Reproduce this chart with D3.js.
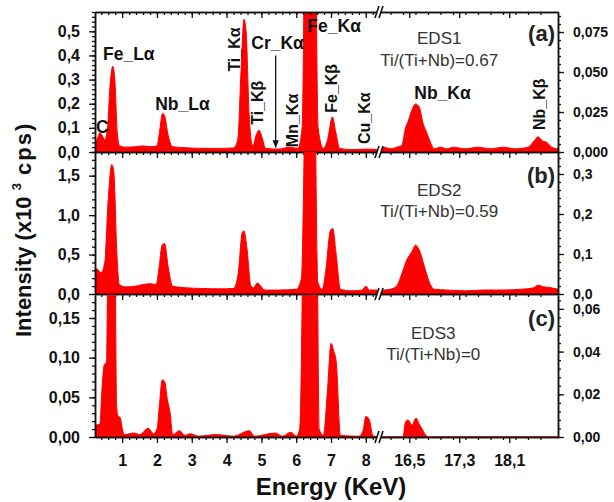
<!DOCTYPE html>
<html>
<head>
<meta charset="utf-8">
<script src="https://cdn.jsdelivr.net/npm/d3@7"></script>
<style>
  body { margin: 0; background: #fff; }
  svg { font-family: "Liberation Sans", Arial, sans-serif; }
</style>
</head>
<body>
<div id="chart"></div>
<script>
// spectra: [energy keV, intensity x10^3 cps]
const specA_low = [[0.22,0.03],[0.3,0.06],[0.36,0.08],[0.42,0.07],[0.5,0.05],[0.58,0.1],[0.65,0.27],[0.73,0.355],[0.79,0.3],[0.86,0.08],[0.93,0.025],[1.1,0.02],[1.4,0.022],[1.6,0.025],[1.8,0.022],[2.0,0.025],[2.07,0.08],[2.16,0.16],[2.22,0.15],[2.32,0.07],[2.45,0.022],[2.8,0.018],[3.3,0.015],[3.8,0.015],[4.2,0.017],[4.32,0.05],[4.42,0.35],[4.5,0.55],[4.56,0.5],[4.65,0.15],[4.75,0.025],[4.85,0.07],[4.93,0.09],[5.02,0.06],[5.12,0.015],[5.5,0.012],[5.8,0.02],[6.05,0.015],[6.17,0.1],[6.27,1.4],[6.4,3.0],[6.53,1.4],[6.63,0.1],[6.78,0.015],[6.9,0.05],[7.04,0.145],[7.14,0.08],[7.25,0.015],[7.6,0.01],[8.0,0.012],[8.35,0.01]];
const specA_high = [[16.0,0.002],[16.1,0.003],[16.2,0.002],[16.3,0.003],[16.38,0.004],[16.44,0.015],[16.48,0.019],[16.54,0.026],[16.6,0.030],[16.66,0.028],[16.72,0.018],[16.78,0.012],[16.84,0.006],[16.9,0.002],[17.0,0.003],[17.1,0.002],[17.2,0.003],[17.4,0.002],[17.6,0.003],[17.8,0.002],[18.0,0.003],[18.2,0.002],[18.4,0.003],[18.5,0.007],[18.56,0.0095],[18.63,0.007],[18.7,0.006],[18.78,0.003],[18.88,0.002]];

const specB_low = [[0.22,0.33],[0.3,0.31],[0.4,0.27],[0.5,0.4],[0.6,1.2],[0.7,1.64],[0.76,1.55],[0.85,0.5],[0.92,0.12],[1.1,0.09],[1.4,0.1],[1.6,0.12],[1.8,0.13],[1.98,0.12],[2.05,0.3],[2.15,0.62],[2.22,0.64],[2.32,0.35],[2.45,0.1],[2.8,0.08],[3.3,0.07],[3.8,0.065],[4.2,0.07],[4.33,0.25],[4.45,0.78],[4.5,0.8],[4.58,0.6],[4.7,0.1],[4.78,0.08],[4.88,0.14],[4.98,0.1],[5.1,0.05],[5.5,0.05],[6.0,0.06],[6.15,0.2],[6.27,3],[6.4,6],[6.53,3],[6.62,0.15],[6.75,0.06],[6.85,0.3],[6.98,0.8],[7.05,0.83],[7.15,0.5],[7.27,0.06],[7.6,0.04],[7.9,0.05],[8.0,0.1],[8.1,0.05],[8.35,0.05]];
const specB_high = [[16.0,0.008],[16.1,0.01],[16.2,0.012],[16.3,0.02],[16.38,0.05],[16.46,0.085],[16.54,0.105],[16.6,0.122],[16.66,0.11],[16.74,0.07],[16.82,0.03],[16.9,0.012],[17.1,0.01],[17.4,0.008],[17.7,0.01],[18.0,0.01],[18.3,0.012],[18.48,0.015],[18.56,0.022],[18.65,0.018],[18.75,0.016],[18.88,0.012]];

const specC_low = [[0.22,0.015],[0.36,0.016],[0.42,0.06],[0.48,0.09],[0.55,0.095],[0.6,0.3],[0.7,0.6],[0.79,0.3],[0.84,0.04],[0.88,0.027],[0.95,0.024],[1.0,0.012],[1.06,0.003],[1.2,0.004],[1.35,0.005],[1.5,0.003],[1.75,0.011],[1.9,0.004],[2.0,0.01],[2.08,0.045],[2.15,0.072],[2.22,0.07],[2.3,0.047],[2.38,0.03],[2.45,0.003],[2.65,0.008],[2.8,0.002],[2.95,0.004],[3.2,0.001],[3.7,0.003],[4.2,0.001],[4.65,0.008],[4.8,0.001],[5.4,0.005],[5.6,0.001],[5.85,0.006],[6.0,0.001],[6.1,0.01],[6.2,0.3],[6.4,2.0],[6.6,0.3],[6.66,0.01],[6.78,0.002],[6.9,0.06],[7.0,0.118],[7.08,0.108],[7.15,0.095],[7.27,0.002],[7.8,0.001],[7.92,0.008],[8.0,0.026],[8.1,0.022],[8.2,0.002],[8.35,0.0]];
const specC_high = [[16.0,0],[16.4,0],[16.44,0.007],[16.48,0.008],[16.54,0.0056],[16.61,0.0088],[16.66,0.006],[16.7,0.004],[16.76,0.001],[16.8,0],[18.88,0]];

const energyTicksLow = [1, 2, 3, 4, 5, 6, 7, 8];
const energyTicksHigh = [16.5, 17.3, 18.1];
const sampleNames = ["EDS1", "EDS2", "EDS3"];
const ratioLabels = ["Ti/(Ti+Nb)=0.67", "Ti/(Ti+Nb)=0.59", "Ti/(Ti+Nb)=0"];
const panelTags = ["(a)", "(b)", "(c)"];

// peak labels of panel (a): energy and intensity where the text starts
const peakLabels = [
  { text: "C", e: 0.25, v: 0.079, high: false, rot: false },
  { text: "Fe_L\u03b1", e: 0.45, v: 0.38, high: false, rot: false },
  { text: "Nb_L\u03b1", e: 1.95, v: 0.175, high: false, rot: false },
  { text: "Ti_K\u03b1", e: 4.39, v: 0.333, high: false, rot: true },
  { text: "Cr_K\u03b1", e: 4.71, v: 0.425, high: false, rot: false },
  { text: "Ti_K\u03b2", e: 5.05, v: 0.1125, high: false, rot: true },
  { text: "Mn_K\u03b1", e: 6.06, v: 0.02, high: false, rot: true },
  { text: "Fe_K\u03b1", e: 6.32, v: 0.496, high: false, rot: false },
  { text: "Fe_K\u03b2", e: 7.18, v: 0.1625, high: false, rot: true },
  { text: "Cu_K\u03b1", e: 8.12, v: 0.033, high: false, rot: true },
  { text: "Nb_K\u03b1", e: 16.58, v: 0.033, high: true, rot: false },
  { text: "Nb_K\u03b2", e: 18.67, v: 0.01375, high: true, rot: true }
];
const crArrow = { e: 5.41, from: 0.40, to: 0.02 };

const width = 614, height = 502;
const plotLeft = 95, plotRight = 558, breakX = 378;

const panels = [
  { low: specA_low, high: specA_high, top: 12, bottom: 152, maxL: 0.58, maxR: 0.0875, stepL: 0.1, stepR: 0.025, fmtL: ".1f", fmtR: ".3f" },
  { low: specB_low, high: specB_high, top: 152, bottom: 294, maxL: 1.8, maxR: 0.355, stepL: 0.5, stepR: 0.1, fmtL: ".1f", fmtR: ".1f" },
  { low: specC_low, high: specC_high, top: 295, bottom: 437, maxL: 0.179, maxR: 0.0665, stepL: 0.05, stepR: 0.02, fmtL: ".2f", fmtR: ".2f" }
];

const xLow = d3.scaleLinear().domain([0.22, 8.35]).range([plotLeft, breakX]);
const xHigh = d3.scaleLinear().domain([16.0, 18.88]).range([breakX, plotRight]);

const svg = d3.select("#chart").append("svg")
  .attr("width", width)
  .attr("height", height);

const defs = svg.append("defs");
defs.append("marker")
  .attr("id", "arrow")
  .attr("viewBox", "0 0 10 10")
  .attr("refX", 9).attr("refY", 5)
  .attr("markerWidth", 6).attr("markerHeight", 7)
  .attr("orient", "auto")
  .append("path").attr("d", "M0,1 L10,5 L0,9 Z").attr("fill", "#111");

const comma = fmt => v => d3.format(fmt)(v).replace(".", ",");
// tick values between a and b, never past b
const range = (a, b, s) => d3.range(Math.round(a / s), Math.floor(b / s + 1e-6) + 1).map(k => +(k * s).toFixed(4));

function styleAxis(g, size) {
  g.selectAll(".domain").attr("stroke", "#111").attr("stroke-width", 1.5);
  g.selectAll(".tick line").attr("stroke", "#111").attr("stroke-width", 1.3);
  g.selectAll("text").attr("fill", "#111").attr("font-weight", "bold")
    .attr("font-size", size).attr("font-family", "Liberation Sans, Arial, sans-serif");
}

panels.forEach((p, i) => {
  const yL = d3.scaleLinear().domain([0, p.maxL]).range([p.bottom, p.top]);
  const yR = d3.scaleLinear().domain([0, p.maxR]).range([p.bottom, p.top]);

  defs.append("clipPath").attr("id", "cl" + i).append("rect")
    .attr("x", plotLeft).attr("y", p.top)
    .attr("width", breakX - plotLeft).attr("height", p.bottom - p.top + 1);
  defs.append("clipPath").attr("id", "cr" + i).append("rect")
    .attr("x", breakX).attr("y", p.top)
    .attr("width", plotRight - breakX).attr("height", p.bottom - p.top + 1);

  const areaLow = d3.area().x(d => xLow(d[0])).y0(p.bottom).y1(d => yL(d[1])).curve(d3.curveMonotoneX);
  const areaHigh = d3.area().x(d => xHigh(d[0])).y0(p.bottom).y1(d => yR(d[1])).curve(d3.curveMonotoneX);

  svg.append("path").datum(p.low).attr("d", areaLow)
    .attr("fill", "#ff0000").attr("stroke", "#ff0000").attr("stroke-width", 1)
    .attr("clip-path", `url(#cl${i})`);
  svg.append("path").datum(p.high).attr("d", areaHigh)
    .attr("fill", "#ff0000").attr("stroke", "#ff0000").attr("stroke-width", 1)
    .attr("clip-path", `url(#cr${i})`);

  // left axis
  const gl = svg.append("g").attr("transform", `translate(${plotLeft},0)`);
  gl.call(d3.axisLeft(yL).tickValues(range(0, p.maxL, p.stepL / 5)).tickSize(3).tickSizeOuter(0).tickFormat(""));
  gl.call(g => g.append("g").call(d3.axisLeft(yL).tickValues(range(0, p.maxL, p.stepL)).tickSize(6).tickPadding(9).tickSizeOuter(0).tickFormat(comma(p.fmtL))));
  styleAxis(gl, "16px");

  // right axis
  const gr = svg.append("g").attr("transform", `translate(${plotRight},0)`);
  gr.call(d3.axisRight(yR).tickValues(range(0, p.maxR, p.stepR / 5)).tickSize(3).tickSizeOuter(0).tickFormat(""));
  gr.call(g => g.append("g").call(d3.axisRight(yR).tickValues(range(0, p.maxR, p.stepR)).tickSize(6).tickPadding(9).tickSizeOuter(0).tickFormat(comma(p.fmtR))));
  styleAxis(gr, "14px");

  // x axes (bottom of every panel, top of first one)
  const ys = i === 0 ? [p.top, p.bottom] : [p.bottom];
  ys.forEach(y => {
    const labelled = i === 2 && y === p.bottom;
    const gx = svg.append("g").attr("transform", `translate(0,${y})`);
    gx.call(d3.axisBottom(xLow).tickValues(range(0.4, 8.2, 0.2)).tickSize(3).tickSizeOuter(0).tickFormat(""));
    gx.call(g => g.append("g").call(d3.axisBottom(xLow).tickValues(energyTicksLow).tickSize(6).tickPadding(12).tickSizeOuter(0)
      .tickFormat(labelled ? d3.format("d") : "")));
    gx.call(g => g.append("g").call(d3.axisBottom(xHigh).tickValues(range(16.1, 18.7, 0.2)).tickSize(3).tickSizeOuter(0).tickFormat("")));
    gx.call(g => g.append("g").call(d3.axisBottom(xHigh).tickValues(energyTicksHigh).tickSize(6).tickPadding(12).tickSizeOuter(0)
      .tickFormat(labelled ? comma(".1f") : "")));
    styleAxis(gx, "16px");
  });

  // texts
  const cx = xHigh(16.98);
  svg.append("text").attr("x", i === 2 ? cx - 6 : cx).attr("y", p.top + (i === 0 ? 32 : 44))
    .attr("text-anchor", "middle").attr("font-size", 17).attr("fill", "#333").text(sampleNames[i]);
  svg.append("text").attr("x", i === 2 ? cx - 6 : cx).attr("y", p.top + (i === 0 ? 54 : 65))
    .attr("text-anchor", "middle").attr("font-size", 17).attr("fill", "#333").text(ratioLabels[i]);
  svg.append("text").attr("x", plotRight - 3).attr("y", p.top + (i === 0 ? 29 : 31))
    .attr("text-anchor", "end").attr("font-size", 22).attr("font-weight", "bold").attr("fill", "#222").text(panelTags[i]);

  if (i === 0) {
    peakLabels.forEach(d => {
      const x = d.high ? xHigh(d.e) : xLow(d.e);
      const y = d.high ? yR(d.v) : yL(d.v);
      svg.append("text")
        .attr("transform", d.rot ? `translate(${x},${y}) rotate(-90)` : `translate(${x},${y})`)
        .attr("font-size", d.rot ? 16 : 17.5).attr("font-weight", "bold").attr("fill", "#111")
        .text(d.text);
    });
    svg.append("line")
      .attr("x1", xLow(crArrow.e)).attr("x2", xLow(crArrow.e))
      .attr("y1", yL(crArrow.from)).attr("y2", yL(crArrow.to))
      .attr("stroke", "#111").attr("stroke-width", 1.3)
      .attr("marker-end", "url(#arrow)");
  }
});

// axis break marks
[12, 152, 294, 437].forEach(y => {
  const g = svg.append("g").attr("transform", `translate(${breakX},${y})`);
  g.append("path").attr("d", "M-3,6 L1,-6 L5,-6 L1,6 Z").attr("fill", "#fff");
  g.append("line").attr("x1", -3).attr("y1", 6).attr("x2", 1).attr("y2", -6).attr("stroke", "#111").attr("stroke-width", 1.6);
  g.append("line").attr("x1", 1).attr("y1", 6).attr("x2", 5).attr("y2", -6).attr("stroke", "#111").attr("stroke-width", 1.6);
});

// axis titles
const yTitle = svg.append("text")
  .attr("transform", "translate(31,337) rotate(-90)")
  .attr("font-size", 22).attr("font-weight", "bold").attr("fill", "#111");
yTitle.append("tspan").text("Intensity (x10 ");
yTitle.append("tspan").attr("font-size", 13).attr("dy", -10).text("3");
yTitle.append("tspan").attr("dy", 10).attr("letter-spacing", 2).text("  cps)");

svg.append("text")
  .attr("x", 331).attr("y", 495)
  .attr("text-anchor", "middle")
  .attr("font-size", 24).attr("font-weight", "bold").attr("fill", "#111")
  .text("Energy (KeV)");
</script>
</body>
</html>
